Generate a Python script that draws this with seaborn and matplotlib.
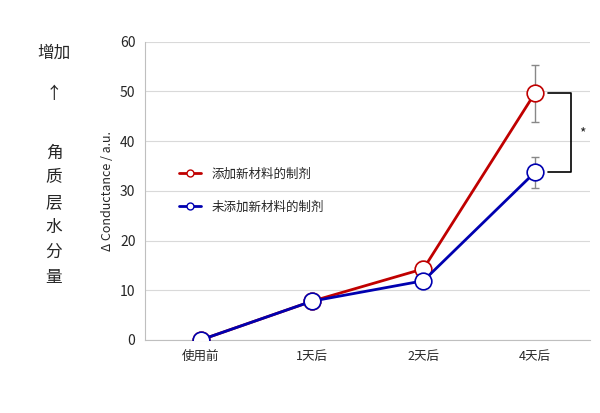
import matplotlib
matplotlib.use("Agg")
import matplotlib.pyplot as plt
import seaborn as sns
import pandas as pd

categories = ["使用前", "1天后", "2天后", "4天后"]
red_vals = [0, 7.8, 14.3, 49.6]
red_err = [0, 0, 1.5, 5.7]
blue_vals = [0, 7.8, 11.9, 33.7]
blue_err = [0, 0, 0, 3.2]
red_label = "添加新材料的制剂"
blue_label = "未添加新材料的制剂"

sns.set_style("white")
plt.rcParams['font.family'] = ['Noto Sans CJK SC', 'DejaVu Sans']

fig = plt.figure(figsize=(6, 4.13), dpi=100)
ax = fig.add_axes([0.242, 0.177, 0.742, 0.722])

ax.errorbar(range(4), red_vals, yerr=red_err, fmt="none", ecolor="#888888", elinewidth=1, capsize=3)
ax.errorbar(range(4), blue_vals, yerr=blue_err, fmt="none", ecolor="#888888", elinewidth=1, capsize=3)
for vals, col in [(red_vals, "#c00000"), (blue_vals, "#0000b0")]:
    df = pd.DataFrame({"x": range(4), "y": vals})
    sns.lineplot(data=df, x="x", y="y", color=col, ax=ax, marker="o", markersize=12,
                 markerfacecolor="white", markeredgecolor=col, markeredgewidth=1.2,
                 linewidth=2, zorder=3)

ax.set_xlim(-0.5, 3.5)
ax.set_ylim(0, 60)
ax.set_yticks(range(0, 61, 10))
ax.set_xticks(range(4))
ax.set_xticklabels(categories, fontsize=9)
ax.tick_params(axis="y", labelsize=10)
ax.grid(axis="y", color="#d9d9d9", linewidth=0.8)
for s in ["top", "right"]:
    ax.spines[s].set_visible(False)
for s in ["left", "bottom"]:
    ax.spines[s].set_color("#bfbfbf")
ax.set_xlabel("")
ax.set_ylabel("Δ Conductance / a.u.", fontsize=9)

from matplotlib.lines import Line2D
h = [Line2D([], [], color="#c00000", marker="o", markerfacecolor="white", markeredgecolor="#c00000", markersize=5, lw=2),
     Line2D([], [], color="#0000b0", marker="o", markerfacecolor="white", markeredgecolor="#0000b0", markersize=5, lw=2)]
ax.legend(h, [red_label, blue_label], loc="center left", bbox_to_anchor=(0.05, 0.5),
          frameon=False, fontsize=9, labelspacing=1.6, handlelength=1.8)

ax.plot([3.12, 3.33, 3.33, 3.12], [49.6, 49.6, 33.7, 33.7], color="black", lw=1.2)
ax.text(3.4, 41.6, "*", fontsize=10, va="center")

fig.text(0.09, 0.86, "增加", fontsize=12, ha="center")
fig.text(0.09, 0.76, "↑", fontsize=12, ha="center")
fig.text(0.09, 0.65, "角\n质\n层\n水\n分\n量", fontsize=12, ha="center", va="top", linespacing=1.6)

fig.savefig("out.png", dpi=100)
